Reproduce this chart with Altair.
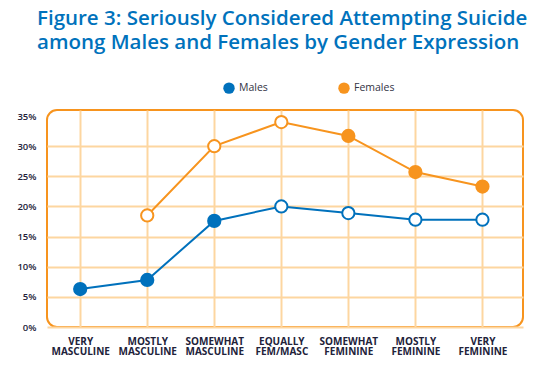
import altair as alt
import pandas as pd

categories = ["VERY MASCULINE", "MOSTLY MASCULINE", "SOMEWHAT MASCULINE", "EQUALLY FEM/MASC",
              "SOMEWHAT FEMININE", "MOSTLY FEMININE", "VERY FEMININE"]
males = [6.3, 7.8, 17.6, 20.0, 18.9, 17.8, 17.8]
males_filled = [True, True, True, False, False, False, False]
females = [None, 18.5, 30.0, 34.0, 31.7, 25.7, 23.3]
females_filled = [False, False, False, False, True, True, True]
series = ["Males", "Females"]
colors = ["#0071BC", "#F7941E"]
y_ticks = [0, 5, 10, 15, 20, 25, 30, 35]

rows = []
for name, vals, fl in [("Males", males, males_filled), ("Females", females, females_filled)]:
    for c, v, f in zip(categories, vals, fl):
        if v is not None:
            rows.append({"category": c, "series": name, "value": v, "filled": f})
df = pd.DataFrame(rows)

grid_col = "#FDD6A0"
x_enc = alt.X("category:N", sort=categories,
              scale=alt.Scale(type="point", padding=0.55, align=0.45),
              axis=alt.Axis(title=None, labelAngle=0, labelExpr="split(datum.label, ' ')",
                            labelFont="Open Sans", labelFontWeight="bold", labelFontSize=10,
                            labelColor="#22223a", labelLineHeight=10, labelPadding=9,
                            domain=False, ticks=False, grid=True, gridColor=grid_col,
                            gridWidth=2))
y_enc = alt.Y("value:Q", scale=alt.Scale(domain=[0, 36], nice=False),
              axis=alt.Axis(title=None, values=y_ticks, labelExpr="datum.value + '%'",
                            labelFont="Open Sans", labelFontWeight=600, labelFontSize=9.5,
                            labelColor="#22223a", labelPadding=11,
                            domain=False, ticks=False, grid=True,
                            gridColor={"condition": {"test": "datum.value === 35", "value": "transparent"},
                                       "value": grid_col},
                            gridWidth=2))
color_scale = alt.Scale(domain=series, range=colors)

layers = []
for name, col in zip(series, colors):
    layers.append(alt.Chart(df).transform_filter(f"datum.series === '{name}'")
                  .mark_line(strokeWidth=2, stroke=col).encode(x=x_enc, y=y_enc))

# filled circles that carry the legend (covered by the points drawn above)
legend_layer = alt.Chart(df).mark_point(filled=True, size=120, opacity=1).encode(
    x=x_enc, y=y_enc,
    fill=alt.Fill("series:N", scale=color_scale,
                  legend=alt.Legend(title=None, orient="none", legendX=176, legendY=-28,
                                    direction="horizontal", symbolType="circle",
                                    symbolSize=130, symbolStrokeWidth=0,
                                    columnPadding=70,
                                    labelFont="Open Sans", labelFontSize=10.5,
                                    labelColor="#333344", labelOffset=4)),
)
layers.append(legend_layer)

for name, col in zip(series, colors):
    layers.append(alt.Chart(df).transform_filter(f"datum.series === '{name}'").mark_point(
        size=150, strokeWidth=2, opacity=1, stroke=col).encode(
        x=x_enc, y=y_enc,
        fill=alt.condition("datum.filled", alt.value(col), alt.value("white")),
    ))

chart = alt.layer(*layers).properties(
    width=476, height=217,
    autosize=alt.AutoSizeParams(type="none"),
    padding={"left": 39, "top": 102, "right": 19, "bottom": 43},
    title=alt.TitleParams(
        text=["Figure 3: Seriously Considered Attempting Suicide",
              "among Males and Females by Gender Expression"],
        anchor="start", frame="group", dx=-10, offset=29,
        font="Open Sans", fontSize=20.5, fontWeight=600, color="#0072BC", lineHeight=23.5),
).configure_view(
    stroke="#F7941E", strokeWidth=2, cornerRadius=10,
)

chart.save("out.html", embed_options={"renderer": "svg", "actions": False})
